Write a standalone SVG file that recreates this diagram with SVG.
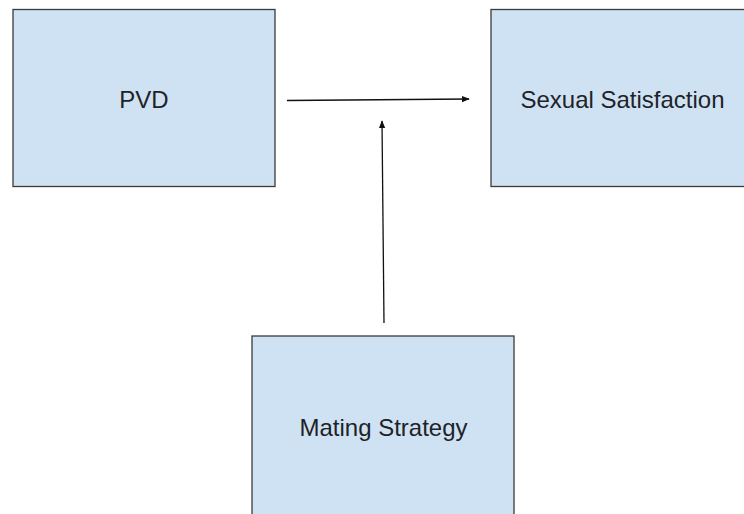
<svg xmlns="http://www.w3.org/2000/svg" width="744" height="514" viewBox="0 0 744 514">
<defs>
<style>
.box{fill:#cfe2f3;stroke:#3a3a3a;stroke-width:1.3}
.lbl{font-family:"Liberation Sans",Arial,sans-serif;font-size:24px;fill:#1f2328;text-anchor:middle}
.conn{stroke:#111;stroke-width:1.3;fill:none}
</style>
<marker id="ah" viewBox="0 0 10 10" refX="9" refY="5" markerWidth="8" markerHeight="8" markerUnits="userSpaceOnUse" orient="auto">
<path d="M0,1 L10,5 L0,9 z" fill="#111"/>
</marker>
</defs>
<rect width="744" height="514" fill="#ffffff"/>
<g id="pvd">
<rect class="box" x="13" y="9.5" width="262" height="177"/>
<text class="lbl" x="144" y="108">PVD</text>
</g>
<g id="sexual-satisfaction">
<rect class="box" x="491" y="9.5" width="270" height="177"/>
<text class="lbl" x="622.5" y="108">Sexual Satisfaction</text>
</g>
<g id="mating-strategy">
<rect class="box" x="252" y="336" width="262" height="190"/>
<text class="lbl" x="383.5" y="436">Mating Strategy</text>
</g>
<g id="connectors">
<line class="conn" x1="287" y1="100.5" x2="469" y2="99" marker-end="url(#ah)"/>
<line class="conn" x1="384" y1="323" x2="382" y2="121" marker-end="url(#ah)"/>
</g>
</svg>
